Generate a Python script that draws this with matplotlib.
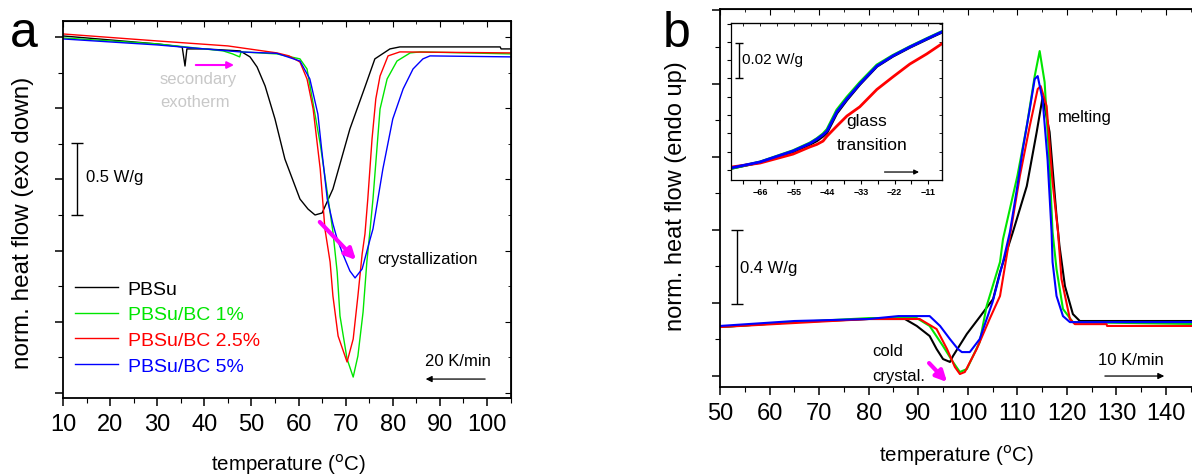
import numpy as np
import matplotlib.pyplot as plt
from matplotlib.ticker import MultipleLocator

plt.rcParams['font.family'] = ['Liberation Sans', 'DejaVu Sans']

# ---- panel a : cooling at 20 K/min (W/g, exo down)
Ta_pbsu = [10, 20, 30, 35.3, 35.9, 36.3, 40, 47.6, 49.7, 51.2, 52.9, 55.0, 57.1, 60.3, 62.0, 63.5,
           65.0, 67.3, 70.9, 74.1, 76.2, 79.4, 81.5, 102.8, 103.0, 105.1]
ha_pbsu = [0.007, -0.021, -0.049, -0.070, -0.204, -0.084, -0.084, -0.098, -0.140, -0.211, -0.344,
           -0.576, -0.857, -1.138, -1.208, -1.250, -1.236, -1.067, -0.646, -0.351, -0.154, -0.084,
           -0.070, -0.070, -0.084, -0.084]
Ta_bc1 = [10, 30, 44, 46, 47.5, 47.8, 55.4, 60.3, 61.8, 64.6, 66.3, 67.3, 68.2, 68.8, 70.3, 71.6,
          72.6, 73.7, 74.5, 75.2, 75.8, 77.3, 78.8, 80.9, 83.7, 85.8, 105.1]
ha_bc1 = [-0.007, -0.049, -0.098, -0.119, -0.140, -0.105, -0.119, -0.154, -0.225, -0.751, -1.138,
          -1.369, -1.650, -1.959, -2.261, -2.388, -2.240, -1.931, -1.580, -1.348, -1.138, -0.506,
          -0.295, -0.169, -0.112, -0.105, -0.119]
Ta_bc25 = [10, 30, 45, 55.4, 58, 60.3, 61.8, 63.1, 64.6, 65.6, 66.7, 67.3, 68.4, 70.3, 71.6, 72.6,
           73.5, 74.1, 74.7, 75.6, 76.4, 77.3, 79.0, 81.5, 105.1]
ha_bc25 = [0.021, -0.028, -0.063, -0.112, -0.133, -0.176, -0.295, -0.506, -0.927, -1.348, -1.580,
           -1.819, -2.100, -2.282, -2.121, -1.819, -1.524, -1.383, -1.138, -0.716, -0.435, -0.274,
           -0.133, -0.105, -0.112]
Ta_bc5 = [10, 30, 47.6, 55.4, 60.3, 62.4, 64.1, 64.9, 66.1, 67.3, 68.2, 69.4, 70.9, 72.0, 73.5,
          75.2, 75.8, 77.9, 80.0, 82.2, 84.3, 86.4, 87.9, 105.1]
ha_bc5 = [-0.014, -0.056, -0.105, -0.115, -0.169, -0.295, -0.541, -0.787, -1.138, -1.313, -1.419,
          -1.524, -1.643, -1.692, -1.629, -1.419, -1.348, -0.927, -0.576, -0.365, -0.225, -0.154,
          -0.133, -0.140]

# ---- panel b : heating at 10 K/min (W/g, endo up)
Tb_pbsu = [50, 65, 80, 87.3, 89.7, 92.3, 93.7, 95.0, 96.4, 97.0, 99.8, 102.4, 105.1, 106.5, 109.1,
           111.9, 113.9, 115.1, 116.5, 117.9, 118.5, 119.6, 121.2, 122.6, 146.8]
hb_pbsu = [0.268, 0.295, 0.312, 0.312, 0.274, 0.219, 0.148, 0.093, 0.077, 0.109, 0.230, 0.323,
           0.421, 0.569, 0.788, 1.039, 1.335, 1.526, 1.335, 0.875, 0.711, 0.492, 0.339, 0.301, 0.301]
Tb_bc1 = [50, 65, 80, 89.7, 92.3, 95.0, 97.0, 98.4, 99.8, 102.4, 103.8, 106.5, 107.1, 110.0, 111.9,
          113.5, 114.5, 115.5, 116.5, 117.1, 117.9, 119.2, 121.2, 146.8]
hb_bc1 = [0.268, 0.295, 0.317, 0.317, 0.274, 0.164, 0.077, 0.022, 0.038, 0.186, 0.383, 0.624,
          0.749, 1.094, 1.368, 1.641, 1.778, 1.608, 1.149, 0.788, 0.585, 0.367, 0.295, 0.284]
Tb_bc25 = [50, 65, 80, 90.3, 93.7, 95.8, 97.4, 98.4, 99.4, 101.8, 104.4, 106.5, 107.9, 110.5, 112.5,
           114.1, 114.7, 115.9, 117.1, 118.2, 118.9, 120.6, 121.6, 128, 128.1, 146.8]
hb_bc25 = [0.268, 0.290, 0.312, 0.312, 0.257, 0.148, 0.049, 0.011, 0.022, 0.148, 0.312, 0.438,
           0.667, 1.094, 1.368, 1.570, 1.586, 1.477, 1.061, 0.788, 0.531, 0.312, 0.284, 0.284,
           0.274, 0.274]
Tb_bc5 = [50, 65, 80, 86, 92.3, 94.4, 96.4, 98.0, 98.8, 100.4, 102.4, 105.0, 107.1, 108.5, 110.0,
          111.1, 112.5, 113.5, 114.1, 115.1, 116.1, 116.9, 117.1, 117.9, 119.2, 120.6, 146.8]
hb_bc5 = [0.274, 0.301, 0.312, 0.328, 0.328, 0.274, 0.202, 0.148, 0.131, 0.131, 0.202, 0.405,
          0.624, 0.788, 1.039, 1.242, 1.461, 1.625, 1.641, 1.510, 1.182, 0.788, 0.624, 0.438,
          0.328, 0.295, 0.295]

# ---- inset : glass transition
Ti = [-75.5, -66.0, -55.2, -49.7, -47.4, -45.4, -44.1, -40.9, -37.6, -33.4, -27.8, -22.6, -17.0,
      -11.5, -6.6]
hi_pbsu = [0.0009, 0.0042, 0.0100, 0.0140, 0.0160, 0.0185, 0.0205, 0.0310, 0.0383, 0.0467, 0.0566,
           0.0621, 0.0670, 0.0714, 0.0752]
hi_bc1 = [0.0008, 0.0044, 0.0106, 0.0148, 0.0172, 0.0198, 0.0222, 0.0328, 0.0398, 0.0478, 0.0574,
          0.0626, 0.0674, 0.0718, 0.0756]
hi_bc25 = [0.0016, 0.0038, 0.0087, 0.0126, 0.0140, 0.0158, 0.0185, 0.0240, 0.0295, 0.0345, 0.0440,
           0.0508, 0.0579, 0.0634, 0.0689]
hi_bc5 = [0.0011, 0.0044, 0.0104, 0.0145, 0.0169, 0.0193, 0.0213, 0.0317, 0.0388, 0.0470, 0.0568,
          0.0623, 0.0672, 0.0716, 0.0754]

labels = ['PBSu', 'PBSu/BC 1%', 'PBSu/BC 2.5%', 'PBSu/BC 5%']
colors = ['black', '#00e600', '#ff0000', '#0000ff']

W, H = 1192, 477
fig = plt.figure(figsize=(W / 100, H / 100), dpi=100)
axa = fig.add_axes([63 / W, 1 - 399 / H, 448 / W, 377 / H])
axb = fig.add_axes([720 / W, 1 - 388 / H, 480 / W, 378 / H])
axi = fig.add_axes([731 / W, 1 - 181 / H, 211 / W, 157 / H])


def style_ticks(ax, xmaj, xmin, ymaj, ymin, right=True, size=17):
    ax.xaxis.set_major_locator(MultipleLocator(xmaj))
    ax.xaxis.set_minor_locator(MultipleLocator(xmin))
    ax.yaxis.set_major_locator(MultipleLocator(ymaj))
    ax.yaxis.set_minor_locator(MultipleLocator(ymin))
    ax.tick_params(which='major', direction='out', length=6, width=1.1, labelsize=size, pad=5)
    ax.tick_params(which='minor', direction='out', length=3.5, width=0.8)
    ax.tick_params(axis='y', labelleft=False)
    for s in ax.spines.values():
        s.set_linewidth(1.3)
    top = ax.secondary_xaxis('top')
    top.xaxis.set_major_locator(MultipleLocator(xmaj))
    top.xaxis.set_minor_locator(MultipleLocator(xmin))
    top.tick_params(which='major', direction='in', length=4, width=0.8, labeltop=False)
    top.tick_params(which='minor', direction='in', length=2.5, width=0.6)
    if right:
        rt = ax.secondary_yaxis('right')
        rt.yaxis.set_major_locator(MultipleLocator(ymaj))
        rt.yaxis.set_minor_locator(MultipleLocator(ymin))
        rt.tick_params(which='major', direction='in', length=4, width=0.8, labelright=False)
        rt.tick_params(which='minor', direction='in', length=2.5, width=0.6)


# ---------------- panel a
for T, h, lab, c in zip([Ta_pbsu, Ta_bc1, Ta_bc25, Ta_bc5], [ha_pbsu, ha_bc1, ha_bc25, ha_bc5],
                        labels, colors):
    axa.plot(T, h, '-', color=c, lw=1.0, label=lab)
axa.set_xlim(10, 105.1)
axa.set_ylim(-2.535, 0.112)
style_ticks(axa, 10, 5, 0.5, 0.25)

leg = axa.legend(loc='upper left', bbox_to_anchor=(75 / W, 1 - 281 / H), bbox_transform=fig.transFigure,
                 frameon=False, fontsize=14, handlelength=2.2, handletextpad=0.5, labelspacing=0.42,
                 borderpad=0, borderaxespad=0)
for t, c in zip(leg.get_texts(), colors):
    t.set_color(c)

axa.errorbar([13.0], [-0.998], yerr=[0.252], color='k', lw=1, capsize=4, capthick=1)
axa.text(14.9, -0.983, '0.5 W/g', fontsize=12, va='center')
axa.text(30.6, -0.295, 'secondary', fontsize=12, va='center', color='#c8c8c8')
axa.text(30.6, -0.456, 'exotherm', fontsize=12, va='center', color='#c8c8c8')
axa.annotate('', xy=(46.9, -0.197), xytext=(37.6, -0.197),
             arrowprops=dict(arrowstyle='-|>', color='#ff00ff', lw=1.5, mutation_scale=10))
axa.text(76.65, -1.559, 'crystallization', fontsize=12, va='center')
axa.annotate('', xy=(72.6, -1.58), xytext=(64.1, -1.285),
             arrowprops=dict(arrowstyle='-|>', color='#ff00ff', lw=3, mutation_scale=16))
axa.text(86.8, -2.275, '20 K/min', fontsize=12, va='center')
axa.annotate('', xy=(86.4, -2.402), xytext=(100.2, -2.402),
             arrowprops=dict(arrowstyle='-|>', color='k', lw=0.9, mutation_scale=9))

fig.text(288 / W, 1 - 465 / H, 'temperature ($^{\\rm o}$C)', fontsize=14.8, ha='center', va='center')
fig.text(23 / W, 1 - 223 / H, 'norm. heat flow (exo down)', fontsize=17.5, ha='center', va='center',
         rotation=90)
fig.text(10 / W, 1 - 47 / H, 'a', fontsize=36, va='baseline')

# ---------------- panel b
for T, h, c in zip([Tb_pbsu, Tb_bc1, Tb_bc25, Tb_bc5], [hb_pbsu, hb_bc1, hb_bc25, hb_bc5], colors):
    axb.plot(T, h, '-', color=c, lw=1.5)
axb.set_xlim(50, 146.85)
axb.set_ylim(-0.060, 2.008)
style_ticks(axb, 10, 5, 0.4, 0.2, right=False)
axb.spines['right'].set_visible(False)

axb.errorbar([53.4], [0.5965], yerr=[0.2025], color='k', lw=1, capsize=4, capthick=1)
axb.text(54.0, 0.596, '0.4 W/g', fontsize=12, va='center')
axb.text(118.2, 1.422, 'melting', fontsize=12, va='center')
axb.text(80.7, 0.137, 'cold', fontsize=12, va='center')
axb.text(80.7, 0.005, 'crystal.', fontsize=12, va='center')
axb.annotate('', xy=(96.2, -0.044), xytext=(91.8, 0.082),
             arrowprops=dict(arrowstyle='-|>', color='#ff00ff', lw=3, mutation_scale=16))
axb.text(126.3, 0.093, '10 K/min', fontsize=12, va='center')
axb.annotate('', xy=(140.2, 0.0), xytext=(127.1, 0.0),
             arrowprops=dict(arrowstyle='-|>', color='k', lw=0.9, mutation_scale=9))

fig.text(956 / W, 1 - 456 / H, 'temperature ($^{\\rm o}$C)', fontsize=14.8, ha='center', va='center')
fig.text(676 / W, 1 - 196 / H, 'norm. heat flow (endo up)', fontsize=17, ha='center', va='center',
         rotation=90)
fig.text(663 / W, 1 - 47 / H, 'b', fontsize=36, va='baseline')

# ---------------- inset
for h, c in zip([hi_pbsu, hi_bc1, hi_bc25, hi_bc5], colors):
    axi.plot(Ti, h, '-', color=c, lw=2)
axi.set_xlim(-75.5, -6.5)
axi.set_ylim(-0.00546, 0.0803)
axi.set_xticks([-66, -55, -44, -33, -22, -11])
axi.xaxis.set_minor_locator(MultipleLocator(5.5))
axi.yaxis.set_major_locator(MultipleLocator(0.01))
axi.tick_params(which='both', direction='out', length=3, width=0.8, labelsize=6.5, pad=2)
axi.tick_params(axis='y', labelleft=False)
for t in axi.get_xticklabels():
    t.set_fontweight('bold')
for s in axi.spines.values():
    s.set_linewidth(0.9)
it = axi.secondary_xaxis('top')
it.set_xticks([-66, -55, -44, -33, -22, -11])
it.xaxis.set_minor_locator(MultipleLocator(5.5))
it.tick_params(which='both', direction='in', length=2.5, width=0.6, labeltop=False)
ir = axi.secondary_yaxis('right')
ir.yaxis.set_major_locator(MultipleLocator(0.01))
ir.tick_params(direction='in', length=2.5, width=0.6, labelright=False)

axi.errorbar([-72.9], [0.05985], yerr=[0.00955], color='k', lw=1, capsize=3, capthick=1)
axi.text(-71.9, 0.0607, '0.02 W/g', fontsize=11, va='center')
axi.text(-31.0, 0.0268, 'glass', fontsize=12.5, ha='center', va='center')
axi.text(-29.5, 0.0142, 'transition', fontsize=12.5, ha='center', va='center')
axi.annotate('', xy=(-13.1, -0.0011), xytext=(-26.2, -0.0011),
             arrowprops=dict(arrowstyle='-|>', color='k', lw=0.9, mutation_scale=7))

fig.savefig('out.png', dpi=100)
